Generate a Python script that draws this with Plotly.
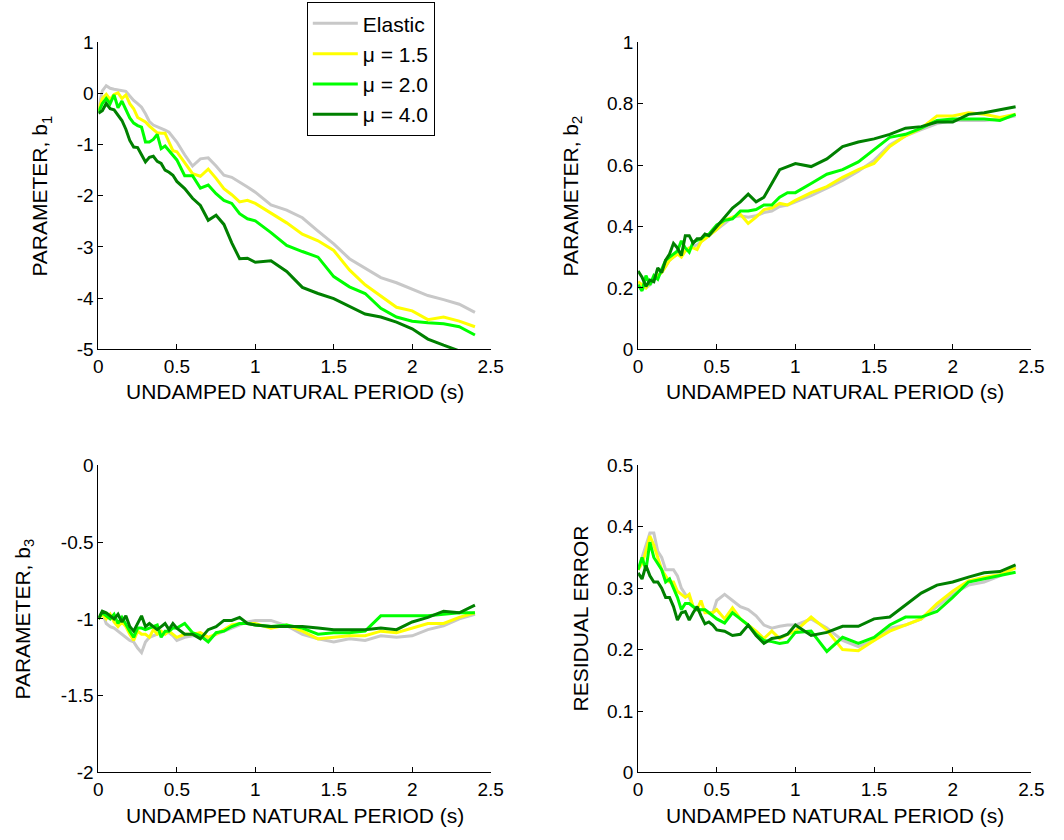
import plotly.graph_objects as go

# ---------------- data ----------------
period = [0, 0.025, 0.05, 0.075, 0.1, 0.125, 0.15, 0.175, 0.2, 0.225, 0.25, 0.275, 0.3,
          0.325, 0.35, 0.375, 0.4, 0.425, 0.45, 0.475, 0.5, 0.55, 0.6, 0.65, 0.7, 0.75,
          0.8, 0.85, 0.9, 0.95, 1.0, 1.1, 1.2, 1.3, 1.4, 1.5, 1.6, 1.7, 1.8, 1.9, 2.0,
          2.1, 2.2, 2.3, 2.4]

series_names = ["Elastic", "μ = 1.5", "μ = 2.0", "μ = 4.0"]

b1_elastic = [-0.31, 0.05, 0.15, 0.10, 0.08, 0.07, 0.06, 0.04, -0.05, -0.14, -0.20, -0.27, -0.40,
              -0.55, -0.62, -0.65, -0.68, -0.72, -0.76, -0.85, -0.95, -1.20, -1.42, -1.28, -1.26, -1.42,
              -1.60, -1.64, -1.73, -1.83, -1.93, -2.18, -2.28, -2.43, -2.69, -2.94, -3.23, -3.42, -3.60, -3.70, -3.83,
              -3.95, -4.03, -4.12, -4.28]
b1_mu15 = [-0.34, -0.10, -0.02, -0.12, -0.02, 0.01, -0.10, -0.03, -0.20, -0.30, -0.47, -0.52, -0.56,
           -0.64, -0.70, -0.77, -0.78, -0.78, -0.95, -1.12, -1.14, -1.35, -1.57, -1.62, -1.48, -1.66,
           -1.86, -1.98, -2.12, -2.09, -2.15, -2.34, -2.53, -2.75, -2.88, -3.07, -3.45, -3.74, -3.96, -4.18, -4.25,
           -4.42, -4.37, -4.45, -4.56]
b1_mu20 = [-0.37, -0.20, -0.10, -0.20, -0.03, -0.28, -0.15, -0.30, -0.48, -0.58, -0.63, -0.66, -0.95,
           -0.95, -0.90, -0.80, -1.08, -1.03, -1.12, -1.20, -1.30, -1.61, -1.61, -1.85, -1.79, -1.96,
           -2.09, -2.15, -2.35, -2.45, -2.49, -2.72, -2.97, -3.09, -3.20, -3.58, -3.78, -3.91, -4.20, -4.37, -4.45,
           -4.48, -4.50, -4.56, -4.72]
b1_mu40 = [-0.39, -0.34, -0.20, -0.30, -0.32, -0.43, -0.53, -0.70, -0.92, -1.05, -1.06, -1.20, -1.34,
           -1.25, -1.23, -1.33, -1.37, -1.50, -1.54, -1.60, -1.72, -1.86, -2.05, -2.19, -2.48, -2.38,
           -2.56, -2.92, -3.23, -3.22, -3.30, -3.27, -3.48, -3.79, -3.91, -4.01, -4.16, -4.31, -4.37, -4.47, -4.60,
           -4.80, -4.92, -5.03, -5.12]

b2_elastic = [0.21, 0.20, 0.20, 0.21, 0.225, 0.24, 0.25, 0.27, 0.29, 0.30, 0.31, 0.31, 0.32,
              0.33, 0.335, 0.34, 0.35, 0.36, 0.37, 0.38, 0.39, 0.41, 0.43, 0.435, 0.43, 0.435,
              0.445, 0.45, 0.465, 0.47, 0.48, 0.50, 0.525, 0.55, 0.58, 0.615, 0.665, 0.695, 0.715, 0.735, 0.745,
              0.745, 0.745, 0.75, 0.76]
b2_mu15 = [0.22, 0.21, 0.20, 0.22, 0.23, 0.24, 0.25, 0.27, 0.29, 0.30, 0.31, 0.30, 0.32,
           0.33, 0.33, 0.325, 0.35, 0.36, 0.37, 0.38, 0.39, 0.42, 0.43, 0.44, 0.41, 0.43,
           0.455, 0.46, 0.475, 0.47, 0.485, 0.51, 0.53, 0.56, 0.585, 0.605, 0.66, 0.695, 0.72, 0.76, 0.76,
           0.77, 0.765, 0.755, 0.765]
b2_mu20 = [0.21, 0.19, 0.24, 0.21, 0.24, 0.228, 0.26, 0.29, 0.30, 0.31, 0.32, 0.353, 0.33,
           0.316, 0.35, 0.355, 0.36, 0.37, 0.375, 0.39, 0.405, 0.42, 0.425, 0.45, 0.45, 0.455,
           0.47, 0.47, 0.495, 0.51, 0.51, 0.54, 0.57, 0.585, 0.61, 0.65, 0.69, 0.70, 0.72, 0.745, 0.75,
           0.75, 0.75, 0.745, 0.765]
b2_mu40 = [0.255, 0.235, 0.205, 0.225, 0.22, 0.265, 0.25, 0.29, 0.31, 0.345, 0.33, 0.305, 0.37,
           0.37, 0.345, 0.36, 0.36, 0.375, 0.37, 0.385, 0.40, 0.43, 0.46, 0.48, 0.505, 0.48,
           0.495, 0.54, 0.585, 0.595, 0.605, 0.595, 0.62, 0.66, 0.675, 0.685, 0.70, 0.72, 0.725, 0.74, 0.74,
           0.765, 0.77, 0.78, 0.79]

b3_elastic = [-1.00, -0.96, -1.03, -1.05, -1.06, -1.08, -1.10, -1.12, -1.14, -1.15, -1.19, -1.22, -1.15,
              -1.12, -1.11, -1.10, -1.09, -1.09, -1.09, -1.11, -1.14, -1.12, -1.11, -1.11, -1.13, -1.10,
              -1.08, -1.06, -1.035, -1.02, -1.01, -1.01, -1.045, -1.10, -1.13, -1.15, -1.13, -1.14, -1.11, -1.12, -1.11,
              -1.07, -1.045, -1.00, -0.97]
b3_mu15 = [-1.00, -0.97, -1.00, -0.97, -1.02, -1.05, -1.02, -1.05, -1.10, -1.14, -1.08, -1.10, -1.10,
           -1.12, -1.07, -1.10, -1.08, -1.10, -1.08, -1.10, -1.12, -1.10, -1.10, -1.09, -1.12, -1.10,
           -1.07, -1.04, -1.03, -1.03, -1.03, -1.06, -1.04, -1.08, -1.13, -1.12, -1.11, -1.11, -1.08, -1.09, -1.06,
           -1.03, -1.03, -0.99, -0.96]
b3_mu20 = [-1.00, -0.96, -0.98, -1.00, -0.97, -1.03, -0.99, -1.04, -1.08, -1.12, -1.06, -1.06, -1.07,
           -1.06, -1.05, -1.04, -1.12, -1.08, -1.08, -1.06, -1.06, -1.03, -1.09, -1.11, -1.15, -1.09,
           -1.08, -1.05, -1.03, -1.03, -1.04, -1.05, -1.04, -1.06, -1.10, -1.09, -1.09, -1.08, -0.98, -0.98, -0.98,
           -0.98, -0.97, -0.96, -0.96]
b3_mu40 = [-1.00, -0.95, -0.96, -0.98, -1.00, -0.97, -1.02, -0.98, -1.05, -1.08, -1.03, -0.98, -1.05,
           -1.03, -1.05, -1.07, -1.05, -1.03, -1.07, -1.03, -1.06, -1.10, -1.10, -1.13, -1.07, -1.05,
           -1.01, -1.01, -0.99, -1.03, -1.04, -1.05, -1.05, -1.05, -1.06, -1.07, -1.07, -1.07, -1.06, -1.07, -1.02,
           -0.99, -0.95, -0.96, -0.91]

res_elastic = [0.33, 0.35, 0.37, 0.39, 0.39, 0.36, 0.35, 0.33, 0.33, 0.33, 0.32, 0.30, 0.29,
               0.285, 0.27, 0.265, 0.265, 0.265, 0.26, 0.26, 0.28, 0.29, 0.28, 0.27, 0.265, 0.255,
               0.24, 0.235, 0.238, 0.24, 0.24, 0.25, 0.235, 0.215, 0.205, 0.215, 0.235, 0.24, 0.25, 0.27, 0.29,
               0.305, 0.31, 0.32, 0.335]
res_mu15 = [0.33, 0.34, 0.36, 0.385, 0.37, 0.35, 0.33, 0.32, 0.31, 0.31, 0.295, 0.29, 0.285,
            0.29, 0.27, 0.265, 0.28, 0.26, 0.26, 0.26, 0.265, 0.25, 0.268, 0.25, 0.24, 0.23,
            0.218, 0.23, 0.218, 0.225, 0.23, 0.253, 0.232, 0.20, 0.198, 0.215, 0.23, 0.24, 0.25, 0.275, 0.295,
            0.312, 0.318, 0.322, 0.333]
res_mu20 = [0.33, 0.35, 0.33, 0.375, 0.35, 0.34, 0.33, 0.31, 0.315, 0.30, 0.285, 0.265, 0.275,
            0.275, 0.27, 0.265, 0.265, 0.265, 0.26, 0.255, 0.25, 0.243, 0.26, 0.25, 0.24, 0.225,
            0.215, 0.213, 0.21, 0.212, 0.228, 0.23, 0.197, 0.22, 0.21, 0.22, 0.24, 0.253, 0.253, 0.262, 0.285,
            0.31, 0.315, 0.32, 0.326]
res_mu40 = [0.325, 0.315, 0.337, 0.32, 0.31, 0.31, 0.30, 0.285, 0.285, 0.27, 0.248, 0.26, 0.262,
            0.248, 0.26, 0.27, 0.255, 0.242, 0.245, 0.24, 0.232, 0.23, 0.223, 0.225, 0.24, 0.223,
            0.21, 0.218, 0.22, 0.225, 0.24, 0.223, 0.228, 0.238, 0.238, 0.25, 0.253, 0.273, 0.292, 0.305, 0.31,
            0.318, 0.325, 0.327, 0.338]

x_tickvals = [0, 0.5, 1, 1.5, 2, 2.5]
x_ticktext = ["0", "0.5", "1", "1.5", "2", "2.5"]
b1_tickvals = [-5, -4, -3, -2, -1, 0, 1]
b1_ticktext = ["-5", "-4", "-3", "-2", "-1", "0", "1"]
b2_tickvals = [0, 0.2, 0.4, 0.6, 0.8, 1]
b2_ticktext = ["0", "0.2", "0.4", "0.6", "0.8", "1"]
b3_tickvals = [-2, -1.5, -1, -0.5, 0]
b3_ticktext = ["-2", "-1.5", "-1", "-0.5", "0"]
res_tickvals = [0, 0.1, 0.2, 0.3, 0.4, 0.5]
res_ticktext = ["0", "0.1", "0.2", "0.3", "0.4", "0.5"]

x_title = "UNDAMPED NATURAL PERIOD (s)"
y_titles = ["PARAMETER, b<sub>1</sub>", "PARAMETER, b<sub>2</sub>",
            "PARAMETER, b<sub>3</sub>", "RESIDUAL ERROR"]

# ---------------- styling ----------------
colors = ["#c8c8c8", "#ffff00", "#00ff00", "#008000"]
FONT = "Liberation Sans, Arial, sans-serif"
W, H = 1064, 840

panels = [
    ([b1_elastic, b1_mu15, b1_mu20, b1_mu40], "x", "y"),
    ([b2_elastic, b2_mu15, b2_mu20, b2_mu40], "x2", "y2"),
    ([b3_elastic, b3_mu15, b3_mu20, b3_mu40], "x3", "y3"),
    ([res_elastic, res_mu15, res_mu20, res_mu40], "x4", "y4"),
]

fig = go.Figure()
for pi, (ser, xa, ya) in enumerate(panels):
    for si, vals in enumerate(ser):
        fig.add_trace(go.Scatter(
            x=period, y=vals, mode="lines", name=series_names[si],
            line=dict(color=colors[si], width=3),
            xaxis=xa, yaxis=ya, showlegend=(pi == 0),
        ))

# pixel layout of the axes boxes
x_left = [95 / W, 494 / W]
x_right = [644 / W, 1044 / W]
y_top = [1 - 348 / H, 1 - 33 / H]
y_bot = [1 - 782 / H, 1 - 467 / H]

def xax(domain, anchor):
    return dict(domain=domain, anchor=anchor, range=[0, 2.5], tickvals=x_tickvals, ticktext=x_ticktext,
                showline=True, linecolor="black", linewidth=1, ticks="inside", ticklen=5,
                tickcolor="black", showgrid=False, zeroline=False, mirror=False,
                tickfont=dict(family=FONT, size=19, color="black"))

def yax(domain, anchor, rng, tv, tt):
    return dict(domain=domain, anchor=anchor, range=rng, tickvals=tv, ticktext=tt,
                showline=True, linecolor="black", linewidth=1, ticks="inside", ticklen=5,
                tickcolor="black", showgrid=False, zeroline=False, mirror=False,
                tickfont=dict(family=FONT, size=19, color="black"))

fig.update_layout(
    width=W, height=H, margin=dict(l=0, r=0, t=0, b=0),
    paper_bgcolor="white", plot_bgcolor="white",
    font=dict(family=FONT, size=19, color="black"),
    xaxis=xax(x_left, "y"), yaxis=yax(y_top, "x", [-5, 1], b1_tickvals, b1_ticktext),
    xaxis2=xax(x_right, "y2"), yaxis2=yax(y_top, "x2", [0, 1], b2_tickvals, b2_ticktext),
    xaxis3=xax(x_left, "y3"), yaxis3=yax(y_bot, "x3", [-2, 0], b3_tickvals, b3_ticktext),
    xaxis4=xax(x_right, "y4"), yaxis4=yax(y_bot, "x4", [0, 0.5], res_tickvals, res_ticktext),
    legend=dict(x=307 / W, y=1 + 8 / H, xanchor="left", yanchor="top",
                bgcolor="white", bordercolor="black", borderwidth=1, itemwidth=45,
                font=dict(family=FONT, size=21, color="black"), tracegroupgap=0),
    showlegend=True,
)

annotations = []
# x titles
for cx, cy in [(294.5, 391), (844, 391), (294.5, 826), (844, 826)]:
    annotations.append(dict(text=x_title, x=cx / W, y=1 - cy / H, xref="paper", yref="paper",
                            xanchor="center", yanchor="middle", showarrow=False,
                            font=dict(family=FONT, size=21, color="black")))
# y titles
for txt, cx, cy in zip(y_titles, [37, 577, 19, 585], [191, 191, 624.5, 624]):
    annotations.append(dict(text=txt, x=cx / W, y=1 - cy / H, xref="paper", yref="paper",
                            xanchor="center", yanchor="middle", showarrow=False, textangle=-90,
                            font=dict(family=FONT, size=21, color="black")))
fig.update_layout(annotations=annotations)

fig.write_html("out.html")
